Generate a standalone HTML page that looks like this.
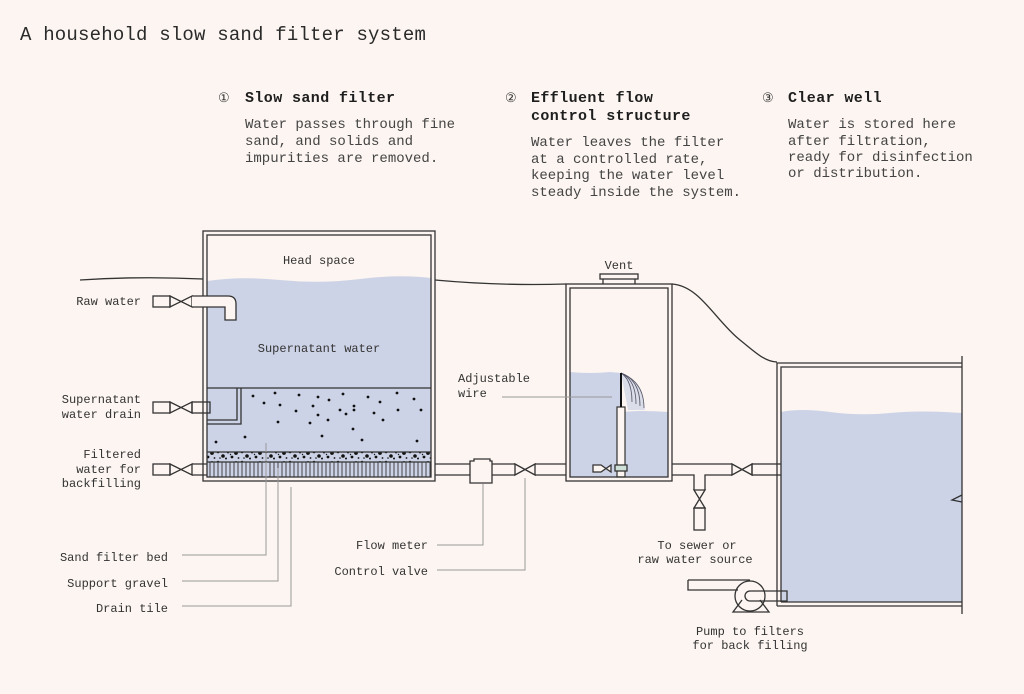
<!DOCTYPE html>
<html><head><meta charset="utf-8"><style>
html,body{margin:0;padding:0;background:#fcf5f1;}
svg{display:block}
text{font-family:"Liberation Mono",monospace;fill:#2a2a2a}
.t{font-size:12px;fill:#333}
.b{font-size:14px;fill:#444}
.h{font-size:15px;font-weight:bold;fill:#1e1e1e;letter-spacing:0.4px}
.n{font-size:13px;fill:#333}
.l{fill:none;stroke:#333;stroke-width:1.3}
.g{fill:none;stroke:#999;stroke-width:1}
.w{fill:#cdd3e6}
</style></head><body>
<svg width="1024" height="694" viewBox="0 0 1024 694" xmlns="http://www.w3.org/2000/svg">
<defs>
<pattern id="tile" x="0" y="0" width="4" height="20" patternUnits="userSpaceOnUse">
<rect width="4" height="20" fill="#cdd3e6"/><line x1="2" y1="0" x2="2" y2="20" stroke="#333" stroke-width="0.9"/>
</pattern>
<pattern id="grav" x="0" y="0" width="24" height="10" patternUnits="userSpaceOnUse">
<rect width="24" height="10" fill="#cdd3e6"/>
<circle cx="2" cy="2" r="1.3" fill="#111"/><circle cx="7" cy="6" r="1.8" fill="#111"/><circle cx="12" cy="2.5" r="1" fill="#111"/>
<circle cx="16" cy="7" r="1.4" fill="#111"/><circle cx="20" cy="3" r="1.9" fill="#111"/><circle cx="4" cy="8" r="0.8" fill="#111"/>
<circle cx="10" cy="8.5" r="1" fill="#111"/><circle cx="22.5" cy="8" r="0.9" fill="#111"/><circle cx="14.5" cy="4.5" r="0.7" fill="#111"/>
</pattern>
</defs>

<text x="20" y="40" style="font-size:19px;letter-spacing:0.2px" fill="#222">A household slow sand filter system</text>

<text x="218" y="102" class="n">①</text>
<text x="245" y="102" class="h">Slow sand filter</text>
<text x="245" y="128" class="b">Water passes through fine</text>
<text x="245" y="145" class="b">sand, and solids and</text>
<text x="245" y="162" class="b">impurities are removed.</text>

<text x="505" y="102" class="n">②</text>
<text x="531" y="102" class="h">Effluent flow</text>
<text x="531" y="120" class="h">control structure</text>
<text x="531" y="146" class="b">Water leaves the filter</text>
<text x="531" y="163" class="b">at a controlled rate,</text>
<text x="531" y="179" class="b">keeping the water level</text>
<text x="531" y="196" class="b">steady inside the system.</text>

<text x="762" y="102" class="n">③</text>
<text x="788" y="102" class="h">Clear well</text>
<text x="788" y="128" class="b">Water is stored here</text>
<text x="788" y="145" class="b">after filtration,</text>
<text x="788" y="161" class="b">ready for disinfection</text>
<text x="788" y="177" class="b">or distribution.</text>

<!-- ground line -->
<path class="l" d="M80 280 Q140 276 203 279"/>
<path class="l" d="M435 280 Q500 286 566 284"/>
<path class="l" d="M672 284 C700 286 715 320 740 340 C755 352 765 362 777 362"/>

<!-- filter tank -->
<path class="w" d="M207 281 Q240 276 280 280 T360 279 T431 278 L431 477 L207 477Z"/>
<rect x="207" y="452" width="224" height="10" fill="url(#grav)"/>
<rect x="207" y="462" width="224" height="15" fill="url(#tile)"/>
<line class="l" x1="207" y1="452" x2="431" y2="452"/>
<line class="l" x1="207" y1="462" x2="431" y2="462"/>
<line class="l" x1="207" y1="388" x2="431" y2="388"/>
<path class="l" d="M237 388 V420 H207 M241 388 V424 H207"/>
<g fill="#111">
<circle cx="253" cy="396" r="1.4"/><circle cx="275" cy="393" r="1.4"/><circle cx="299" cy="395" r="1.4"/><circle cx="318" cy="397" r="1.4"/>
<circle cx="329" cy="400" r="1.4"/><circle cx="343" cy="394" r="1.4"/><circle cx="368" cy="397" r="1.4"/><circle cx="380" cy="402" r="1.4"/>
<circle cx="397" cy="393" r="1.4"/><circle cx="414" cy="399" r="1.4"/><circle cx="264" cy="403" r="1.4"/><circle cx="280" cy="405" r="1.4"/>
<circle cx="296" cy="411" r="1.4"/><circle cx="313" cy="406" r="1.4"/><circle cx="318" cy="415" r="1.4"/><circle cx="340" cy="410" r="1.4"/>
<circle cx="346" cy="414" r="1.4"/><circle cx="354" cy="406" r="1.4"/><circle cx="354" cy="410" r="1.4"/><circle cx="374" cy="413" r="1.4"/>
<circle cx="398" cy="410" r="1.4"/><circle cx="421" cy="410" r="1.4"/><circle cx="278" cy="422" r="1.4"/><circle cx="310" cy="423" r="1.4"/>
<circle cx="328" cy="420" r="1.4"/><circle cx="383" cy="420" r="1.4"/><circle cx="353" cy="429" r="1.4"/><circle cx="216" cy="442" r="1.4"/>
<circle cx="245" cy="437" r="1.4"/><circle cx="322" cy="436" r="1.4"/><circle cx="362" cy="440" r="1.4"/><circle cx="417" cy="441" r="1.4"/>
</g>
<rect class="l" x="203" y="231" width="232" height="250"/>
<rect class="l" x="207" y="235" width="224" height="242"/>
<text x="319" y="264" class="t" text-anchor="middle">Head space</text>
<text x="319" y="352" class="t" text-anchor="middle">Supernatant water</text>

<!-- left pipes -->
<g class="l" fill="#fcf5f1">
<rect x="153" y="296" width="17" height="11" fill="#fcf5f1"/>
<path d="M170 296 L192 307 L192 296 L170 307Z"/>
<path d="M192 296 H228 Q236 296 236 304 V320 H225 V307 H192" fill="#fcf5f1"/>
<rect x="153" y="402" width="17" height="11" fill="#fcf5f1"/>
<path d="M170 402 L192 413 L192 402 L170 413Z"/>
<rect x="192" y="402" width="18" height="11" fill="none"/>
<rect x="153" y="464" width="17" height="11" fill="#fcf5f1"/>
<path d="M170 464 L192 475 L192 464 L170 475Z"/>
<path d="M192 464 H207 M192 475 H207"/>
</g>
<text x="141" y="305" class="t" text-anchor="end">Raw water</text>
<text x="141" y="403" class="t" text-anchor="end">Supernatant</text>
<text x="141" y="418" class="t" text-anchor="end">water drain</text>
<text x="141" y="458" class="t" text-anchor="end">Filtered</text>
<text x="141" y="473" class="t" text-anchor="end">water for</text>
<text x="141" y="487" class="t" text-anchor="end">backfilling</text>

<!-- middle pipes -->
<g class="l">
<path d="M435 464 H470 M435 475 H470"/>
<path d="M470 461 H474 V459 H490 V461 H492 V483 H474 V483 H470Z" fill="#fcf5f1"/>
<path d="M492 464 H515 M492 475 H515"/>
<path d="M515 464 L535 475 L535 464 L515 475Z"/>
<path d="M535 464 H566 M535 475 H566"/>
</g>

<!-- effluent chamber -->
<path class="w" d="M570 372 Q590 374 610 372 L621 373 L621 412 Q640 410 668 412 L668 477 L570 477Z"/>
<path d="M621 373 Q636 378 642 392 L645 410 L628 410 Z" fill="#cdd3e6" opacity="0.7"/>
<g fill="none" stroke="#556" stroke-width="0.8">
<path d="M621 373 Q632 380 632 402"/><path d="M621 373 Q636 380 636 404"/><path d="M621 373 Q640 380 640 406"/><path d="M621 373 Q644 382 644 408"/>
</g>
<rect x="617" y="407" width="8" height="70" fill="#fcf5f1" stroke="#333" stroke-width="1.2"/>
<line x1="621" y1="373" x2="621" y2="407" stroke="#111" stroke-width="2"/>
<g class="l" stroke-width="1">
<path d="M593 465 H601 L611 472 V465 L601 472 H593Z" fill="#fcf5f1"/>
<rect x="615" y="465" width="12" height="6" fill="#cfe0d8"/>
</g>
<rect class="l" x="566" y="284" width="106" height="197"/>
<rect class="l" x="570" y="288" width="98" height="189"/>
<rect class="l" x="600" y="274" width="38" height="5" fill="#fcf5f1"/>
<path class="l" d="M603 279 V284 M635 279 V284"/>
<text x="619" y="269" class="t" text-anchor="middle">Vent</text>
<text x="458" y="382" class="t">Adjustable</text>
<text x="458" y="397" class="t">wire</text>
<line class="g" x1="502" y1="397" x2="612" y2="397"/>

<!-- right pipes -->
<g class="l">
<path d="M672 464 H732 M672 475 H694 V490 M705 490 V475 H732"/>
<path d="M694 490 L705 508 L694 508 L705 490Z"/>
<rect x="694" y="508" width="11" height="22"/>
<path d="M732 464 L752 475 L752 464 L732 475Z"/>
<rect x="752" y="464" width="35" height="11"/>
</g>

<!-- clear well -->
<path class="w" d="M781 412 Q800 408 830 412 T890 413 T962 413 L962 602 L781 602Z"/>
<path class="l" d="M962 356 V614 M777 606 V363 H962 M781 602 V367 H962 M777 606 H962 M781 602 H962"/>
<path class="l" d="M962 495 L952 500 L962 502" fill="#fcf5f1"/>

<!-- pump -->
<g class="l" fill="#fcf5f1">
<path d="M738 612 L733 612 L742 600 M760 600 L769 612 L733 612" />
<circle cx="750" cy="596" r="15"/>
<path d="M688 580 H750 M688 580 V590 H738" />
<path d="M787 591 H750 A5 5 0 0 0 750 601 H787 Z"/>
</g>

<!-- labels lower -->
<text x="697" y="549" class="t" text-anchor="middle">To sewer or</text>
<text x="695" y="563" class="t" text-anchor="middle">raw water source</text>
<text x="750" y="635" class="t" text-anchor="middle">Pump to filters</text>
<text x="750" y="649" class="t" text-anchor="middle">for back filling</text>

<g class="g">
<path d="M266 443 V555 H182"/>
<path d="M278 468 V581 H182"/>
<path d="M291 487 V606 H182"/>
<path d="M483 484 V545 H437"/>
<path d="M525 478 V570 H437"/>
</g>
<text x="168" y="561" class="t" text-anchor="end">Sand filter bed</text>
<text x="168" y="587" class="t" text-anchor="end">Support gravel</text>
<text x="168" y="612" class="t" text-anchor="end">Drain tile</text>
<text x="428" y="549" class="t" text-anchor="end">Flow meter</text>
<text x="428" y="575" class="t" text-anchor="end">Control valve</text>
</svg>
</body></html>
